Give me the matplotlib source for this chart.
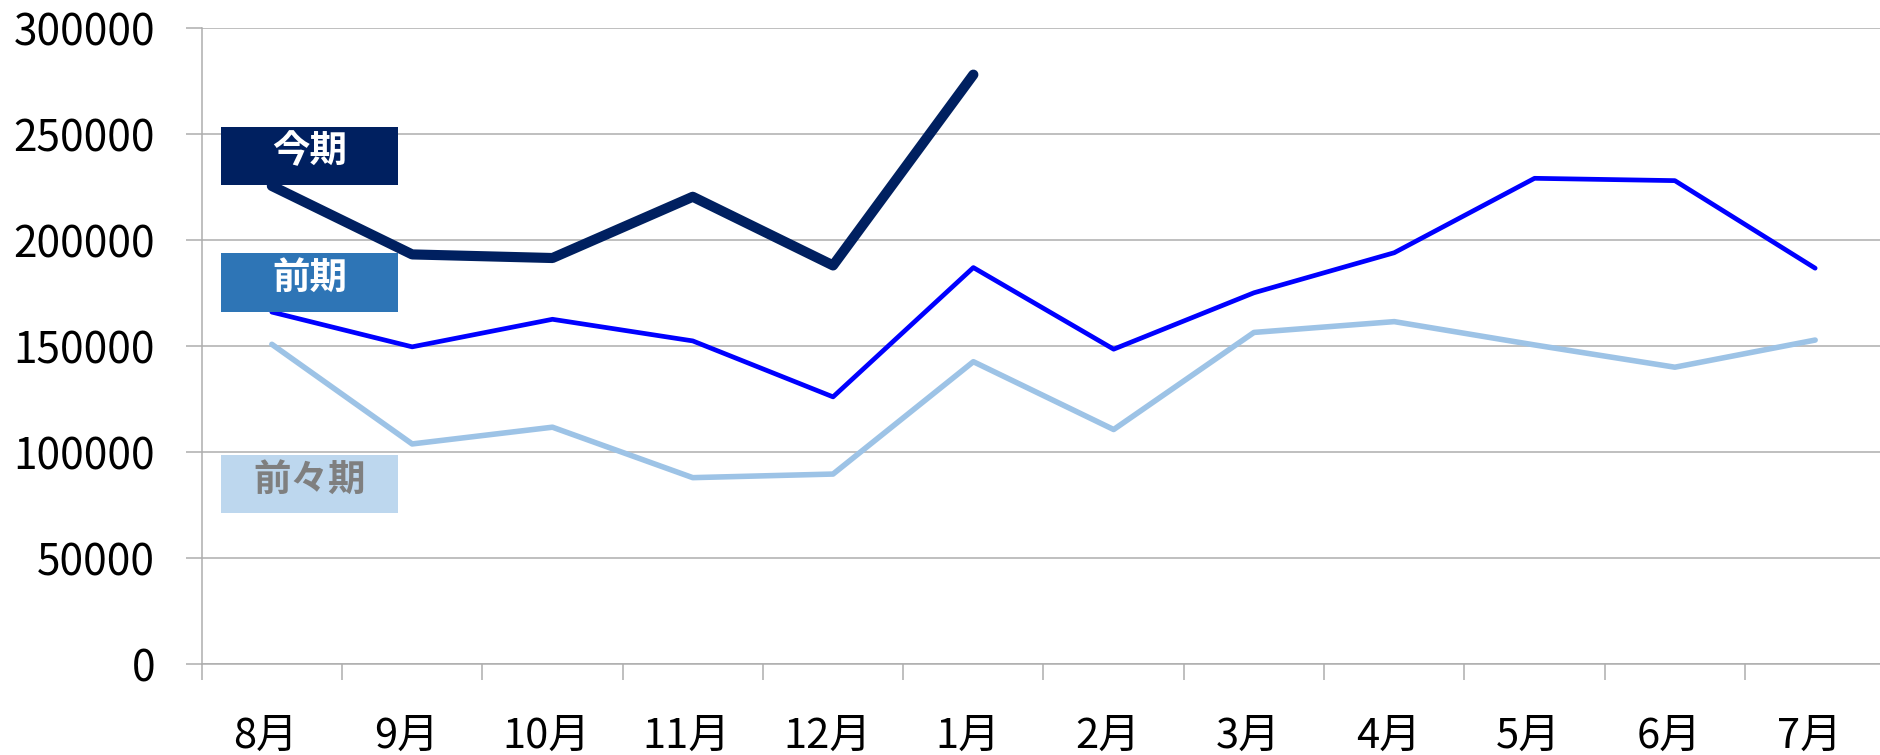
import matplotlib
matplotlib.use("Agg")
import matplotlib.pyplot as plt
import matplotlib.transforms as mtransforms
from matplotlib.patches import Rectangle
import numpy as np

plt.rcParams['font.family'] = ['Noto Sans CJK JP', 'DejaVu Sans']

months = ['8月', '9月', '10月', '11月', '12月', '1月', '2月', '3月', '4月', '5月', '6月', '7月']
this_term = [225500, 193200, 191500, 220400, 188000, 278000]
prev_term = [166000, 149600, 162600, 152400, 126000, 187000,
             148500, 175100, 194000, 229100, 228000, 186700]
prev2_term = [150800, 103800, 111700, 87900, 89600, 142600,
              110600, 156400, 161500, 150500, 140000, 152800]
y_ticks = [0, 50000, 100000, 150000, 200000, 250000, 300000]

grid_col = '#ADADAD'

fig = plt.figure(figsize=(18.81, 7.55), dpi=100)
ax = fig.add_axes([201.7 / 1881, 91 / 755, 1683.6 / 1881, 636 / 755])

x = np.arange(len(months))
ax.plot(x, prev2_term, color='#9DC3E6', lw=4.0, solid_capstyle='round', solid_joinstyle='round', zorder=3)
ax.plot(x, prev_term, color='#0000FF', lw=3.4, solid_capstyle='round', solid_joinstyle='round', zorder=4)
ax.plot(x[:len(this_term)], this_term, color='#002060', lw=7.3,
        solid_capstyle='round', solid_joinstyle='round', zorder=5)

ax.set_xlim(-0.5, 11.5)
ax.set_ylim(0, 300000)

# category ticks on boundaries, labels at centres
ax.set_xticks(np.arange(-0.5, 12, 1))
ax.set_xticklabels([])
ax.set_xticks(x, minor=True)
ax.set_xticklabels(months, minor=True, fontsize=30)
ax.tick_params(axis='x', which='major', length=11.5, width=1.1, color=grid_col, direction='out')
ax.tick_params(axis='x', which='minor', length=0, pad=37)
shift = mtransforms.ScaledTranslation(-6 / 100, 0, fig.dpi_scale_trans)
for lbl in ax.get_xticklabels(minor=True):
    lbl.set_transform(lbl.get_transform() + shift)

ax.set_yticks(y_ticks)
ax.set_yticklabels([str(v) for v in y_ticks], fontsize=30.5)
ax.tick_params(axis='y', length=11.5, width=1.1, color=grid_col, direction='out', pad=22)

ax.grid(axis='y', color=grid_col, lw=1.1)
ax.set_axisbelow(True)
for s in ['top', 'right']:
    ax.spines[s].set_visible(False)
for s in ['left', 'bottom']:
    ax.spines[s].set_color(grid_col)
    ax.spines[s].set_linewidth(1.1)

# series label boxes
x0, x1 = -0.3624, 0.9027
boxes = [
    ('今期', 225950, 253450, '#002060', 'white'),
    ('前期', 166040, 193870, '#2E75B6', 'white'),
    ('前々期', 71230, 98440, '#BDD7EE', '#7F7F7F'),
]
for label, y0, y1, fc, tc in boxes:
    ax.add_patch(Rectangle((x0, y0), x1 - x0, y1 - y0, facecolor=fc, edgecolor='none', zorder=6))
    ax.text((x0 + x1) / 2, (y0 + y1) / 2 + 2500, label, ha='center', va='center',
            color=tc, fontsize=27, fontweight='bold', zorder=7)

fig.savefig('out.png', dpi=100)
